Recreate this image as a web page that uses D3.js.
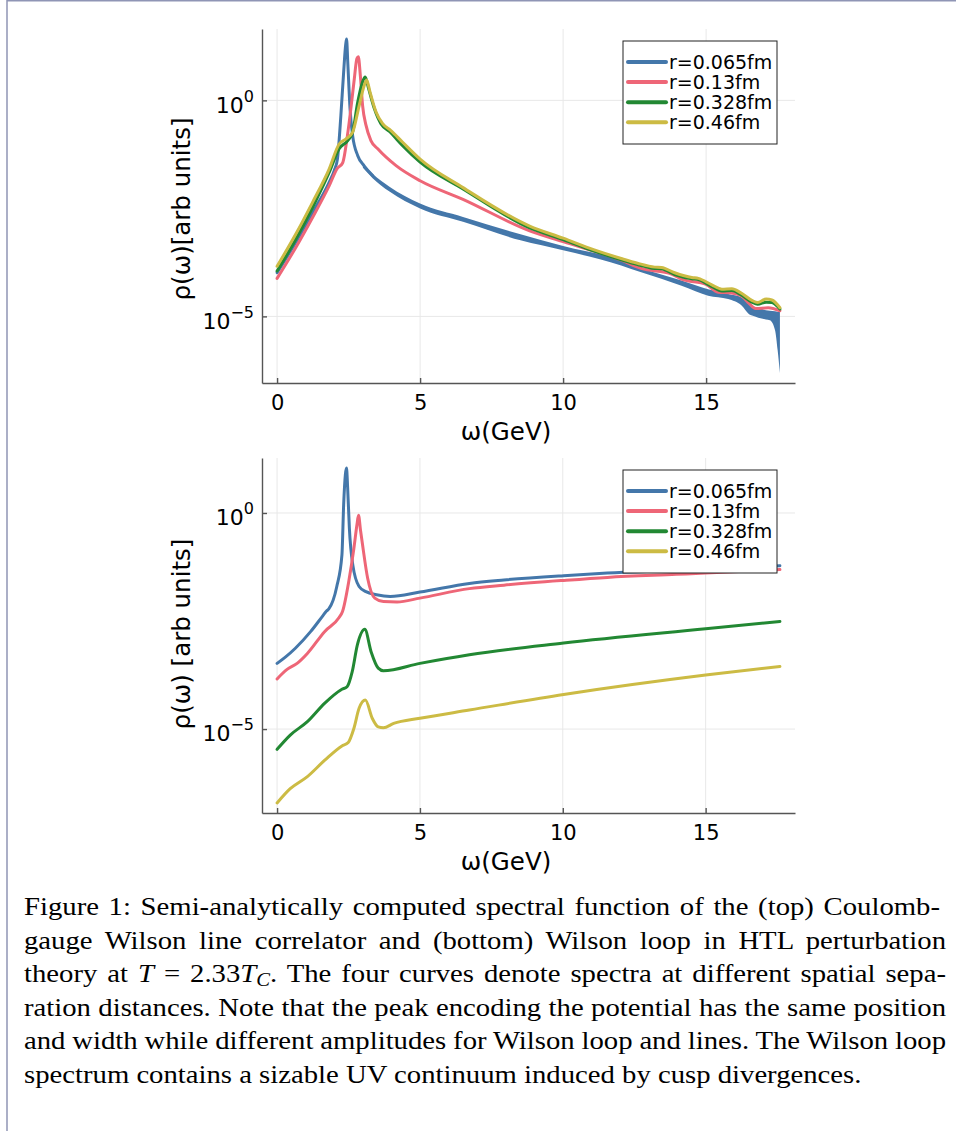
<!DOCTYPE html>
<html>
<head>
<meta charset="utf-8">
<script src="https://cdn.jsdelivr.net/npm/d3@7"></script>
<style>
  body { margin: 0; background: #fff; }
  svg { display: block; }
</style>
</head>
<body>
<svg id="fig" width="956" height="1131"></svg>
<script>
// series colours and legend labels
const colors = ['#4477AA', '#EE6677', '#228833', '#CCBB44'];
const labels = ['r=0.065fm', 'r=0.13fm', 'r=0.328fm', 'r=0.46fm'];
const xTicks = [0, 5, 10, 15];
const yTickExp = [0, -5];

// top panel: Wilson line correlator, [omega GeV, log10 rho]
const lineBlue = [[0,-3.99],[0.65,-3.29],[1.24,-2.60],[1.82,-1.90],[2.0,-1.62],[2.11,-1.36],[2.23,-0.35],[2.32,0.58],[2.40,1.30],[2.43,1.42],[2.47,0.90],[2.55,-0.19],[2.64,-0.81],[2.82,-1.28],[3.05,-1.52],[3.34,-1.74]];
// blue oscillates fast above the peak: [omega, upper, lower]
const lineBlueBand = [[3.0,-1.46,-1.56],[3.34,-1.70,-1.80],[3.93,-2.00,-2.11],[5.0,-2.39,-2.50],[6.5,-2.70,-2.81],[8.51,-3.10,-3.24],[10,-3.37,-3.47],[12.03,-3.70,-3.82],[12.73,-3.88,-3.98],[14.14,-4.17,-4.29],[15.07,-4.37,-4.52],[15.77,-4.48,-4.60],[16.24,-4.56,-4.75],[16.5,-4.70,-4.95],[16.71,-4.79,-5.00],[16.94,-4.83,-5.05],[17.23,-4.87,-5.09],[17.41,-4.88,-5.32],[17.50,-4.89,-5.78],[17.58,-4.90,-6.31]];
const lineRed = [[0,-4.12],[0.65,-3.41],[1.24,-2.71],[1.82,-1.98],[2.11,-1.57],[2.29,-1.45],[2.46,-0.81],[2.58,-0.19],[2.70,0.50],[2.79,0.97],[2.84,1.01],[2.91,0.58],[2.99,-0.12],[3.11,-0.58],[3.28,-0.93],[3.52,-1.12],[4.16,-1.51],[5.0,-1.86],[6.5,-2.29],[8.83,-3.02],[10,-3.27],[12.03,-3.70],[12.73,-3.89],[13.79,-4.02],[14.14,-4.14],[15,-4.26],[15.42,-4.44],[15.89,-4.46],[16.24,-4.53],[16.5,-4.70],[16.73,-4.82],[17.17,-4.80],[17.58,-4.87]];
const lineGreen = [[0,-3.95],[0.65,-3.22],[1.24,-2.48],[1.82,-1.67],[2.17,-1.12],[2.47,-0.93],[2.64,-0.74],[2.82,-0.04],[2.99,0.43],[3.08,0.54],[3.20,0.27],[3.40,-0.19],[3.63,-0.54],[3.93,-0.72],[4.39,-1.05],[5.0,-1.43],[6.5,-2.05],[8.83,-2.95],[10,-3.22],[11.09,-3.49],[12.03,-3.69],[12.6,-3.80],[13.2,-3.89],[13.44,-3.90],[13.9,-4.03],[14.5,-4.13],[14.73,-4.15],[15.2,-4.31],[15.55,-4.41],[15.9,-4.40],[16.2,-4.49],[16.6,-4.67],[16.8,-4.72],[17.1,-4.67],[17.3,-4.68],[17.58,-4.83]];
const lineYellow = [[0,-3.84],[0.65,-3.10],[1.24,-2.36],[1.82,-1.59],[2.17,-1.01],[2.41,-0.89],[2.64,-0.74],[2.87,-0.12],[3.05,0.35],[3.13,0.47],[3.25,0.19],[3.46,-0.27],[3.69,-0.54],[3.98,-0.70],[4.39,-0.97],[5.0,-1.36],[6.5,-2.02],[8.83,-2.91],[10,-3.19],[11.09,-3.46],[12.03,-3.66],[12.6,-3.77],[13.2,-3.86],[13.44,-3.87],[13.9,-3.99],[14.5,-4.10],[14.73,-4.12],[15.2,-4.27],[15.55,-4.37],[15.9,-4.36],[16.2,-4.45],[16.6,-4.63],[16.8,-4.68],[17.1,-4.60],[17.3,-4.62],[17.58,-4.80]];

// bottom panel: Wilson loop
const loopBlue = [[0,-3.48],[0.3,-3.33],[0.64,-3.13],[1.18,-2.74],[1.6,-2.38],[1.73,-2.27],[1.81,-2.22],[2.09,-1.70],[2.27,-0.97],[2.33,0.19],[2.39,0.89],[2.43,1.04],[2.47,0.58],[2.53,-0.35],[2.65,-1.20],[2.87,-1.70],[3.11,-1.82],[3.48,-1.89],[3.96,-1.93],[5.0,-1.83],[6.73,-1.63],[7.94,-1.55],[10.03,-1.45],[11.56,-1.39],[13.97,-1.33],[15,-1.30],[17.6,-1.22]];
const loopRed = [[0,-3.84],[0.35,-3.62],[0.70,-3.48],[1.06,-3.25],[1.67,-2.74],[2.17,-2.42],[2.29,-2.28],[2.51,-1.58],[2.69,-0.81],[2.80,-0.25],[2.85,-0.05],[2.92,-0.40],[2.99,-0.73],[3.17,-1.51],[3.42,-1.97],[3.72,-2.05],[4.20,-2.06],[5.0,-1.97],[6.73,-1.75],[7.94,-1.67],[10.03,-1.56],[11.56,-1.49],[13.97,-1.42],[15,-1.39],[17.6,-1.31]];
const loopGreen = [[0,-5.47],[0.46,-5.14],[1.06,-4.83],[1.67,-4.40],[2.27,-4.08],[2.45,-4.02],[2.63,-3.67],[2.81,-3.05],[3.07,-2.69],[3.29,-3.21],[3.54,-3.59],[3.72,-3.65],[5,-3.48],[6.73,-3.28],[10.03,-3.01],[15,-2.68],[17.6,-2.51]];
const loopYellow = [[0,-6.71],[0.46,-6.38],[1.06,-6.10],[1.67,-5.72],[2.27,-5.39],[2.49,-5.31],[2.69,-4.98],[2.87,-4.52],[3.09,-4.33],[3.33,-4.75],[3.54,-4.95],[3.72,-4.97],[4.08,-4.87],[5,-4.75],[6.73,-4.56],[10.03,-4.20],[15,-3.75],[17.6,-3.55]];

const captionLines = [
  'Figure 1: Semi-analytically computed spectral function of the (top) Coulomb-',
  'gauge Wilson line correlator and (bottom) Wilson loop in HTL perturbation',
  null,
  'ration distances. Note that the peak encoding the potential has the same position',
  'and width while different amplitudes for Wilson loop and lines. The Wilson loop',
  'spectrum contains a sizable UV continuum induced by cusp divergences.'
];

const svg = d3.select('#fig');
const sans = 'DejaVu Sans, sans-serif';
const axisColor = '#555';

svg.append('line').attr('x1', 7).attr('x2', 7).attr('y1', 0).attr('y2', 1131)
  .attr('stroke', '#8f95b5').attr('stroke-width', 1.5);
svg.append('line').attr('x1', 7).attr('x2', 956).attr('y1', 0.75).attr('y2', 0.75)
  .attr('stroke', '#8f95b5').attr('stroke-width', 1.5);

function drawPanel(p) {
  const pts = p.series.flat();
  if (p.band) p.band.forEach(d => { pts.push([d[0], d[1]]); pts.push([d[0], d[2]]); });
  const xe = d3.extent(pts, d => d[0]);
  const ye = d3.extent(pts, d => d[1]);
  const xpad = (xe[1] - xe[0]) * 0.03, ypad = (ye[1] - ye[0]) * 0.03;
  const x = d3.scaleLinear().domain([xe[0] - xpad, xe[1] + xpad]).range([p.left, p.right]);
  const y = d3.scaleLog().domain([10 ** (ye[0] - ypad), 10 ** (ye[1] + ypad)]).range([p.bottom, p.top]);

  const g = svg.append('g');

  g.selectAll('.gx').data(xTicks).enter().append('line')
    .attr('x1', d => x(d)).attr('x2', d => x(d))
    .attr('y1', p.top).attr('y2', p.bottom)
    .attr('stroke', '#e8e8e8').attr('stroke-width', 1);
  g.selectAll('.gy').data(yTickExp).enter().append('line')
    .attr('x1', p.left).attr('x2', p.right)
    .attr('y1', d => y(10 ** d)).attr('y2', d => y(10 ** d))
    .attr('stroke', '#e8e8e8').attr('stroke-width', 1);

  const line = d3.line().x(d => x(d[0])).y(d => y(10 ** d[1])).curve(d3.curveMonotoneX);

  if (p.band) {
    const area = d3.area().x(d => x(d[0]))
      .y0(d => y(10 ** d[2])).y1(d => y(10 ** d[1])).curve(d3.curveMonotoneX);
    g.append('path').datum(p.band).attr('d', area).attr('fill', colors[0]);
  }
  p.series.forEach((s, i) => {
    g.append('path').datum(s).attr('d', line)
      .attr('fill', 'none').attr('stroke', colors[i])
      .attr('stroke-width', 3).attr('stroke-linejoin', 'round').attr('stroke-linecap', 'round');
  });

  const xAxis = g.append('g').attr('transform', `translate(0,${p.bottom})`)
    .call(d3.axisBottom(x).tickValues(xTicks).tickSizeInner(-5).tickSizeOuter(0).tickPadding(12));
  xAxis.selectAll('text').attr('font-family', sans).attr('font-size', 21).attr('fill', '#000');

  const yAxis = g.append('g').attr('transform', `translate(${p.left},0)`)
    .call(d3.axisLeft(y).tickValues(yTickExp.map(e => 10 ** e)).tickSizeInner(-5).tickSizeOuter(0).tickFormat(''));
  yAxis.selectAll('.tick').append('text')
    .attr('x', -8).attr('dy', '0.35em').attr('y', 4)
    .attr('text-anchor', 'end').attr('fill', '#000')
    .attr('font-family', sans).attr('font-size', 22)
    .each(function(d) {
      const e = Math.round(Math.log10(d));
      const t = d3.select(this);
      t.append('tspan').text('10');
      t.append('tspan').attr('dy', -11).attr('font-size', 16).text(e < 0 ? '\u2212' + (-e) : e);
    });

  [xAxis, yAxis].forEach(a => {
    a.selectAll('path, line').attr('stroke', axisColor).attr('stroke-width', 1.4);
  });

  g.append('text').attr('x', 506).attr('y', p.bottom + 57)
    .attr('text-anchor', 'middle').attr('font-family', sans).attr('font-size', 24.5)
    .text('\u03c9(GeV)');
  g.append('text').attr('transform', `translate(190,${p.ylabelY}) rotate(-90)`)
    .attr('text-anchor', 'middle').attr('font-family', sans).attr('font-size', 24.5)
    .text(p.ylabel);

  const lg = g.append('g').attr('transform', `translate(${p.legend[0]},${p.legend[1]})`);
  lg.append('rect').attr('width', 154).attr('height', 103)
    .attr('fill', '#fff').attr('stroke', '#222').attr('stroke-width', 1);
  labels.forEach((lab, i) => {
    const yy = 21 + i * 20.1;
    lg.append('line').attr('x1', 5).attr('x2', 43).attr('y1', yy).attr('y2', yy)
      .attr('stroke', colors[i]).attr('stroke-width', 4).attr('stroke-linecap', 'round');
    lg.append('text').attr('x', 46).attr('y', yy).attr('dy', '0.36em')
      .attr('font-family', sans).attr('font-size', 19).text(lab);
  });
}

drawPanel({
  left: 262, right: 795, top: 29, bottom: 383,
  series: [lineBlue, lineRed, lineGreen, lineYellow],
  band: lineBlueBand,
  legend: [623, 41],
  ylabel: '\u03c1(\u03c9)[arb units]', ylabelY: 209
});
drawPanel({
  left: 262, right: 795, top: 458, bottom: 813,
  series: [loopBlue, loopRed, loopGreen, loopYellow],
  legend: [623, 470],
  ylabel: '\u03c1(\u03c9) [arb units]', ylabelY: 634
});

// caption: glyphs stretched to the last (unjustified) line, other lines justified by word spacing
const serif = 'Liberation Serif, Times New Roman, serif';
const capLeft = 24;
const capRight = [940, 946, 946, 946, 946, 862];
const cap = svg.append('g').attr('font-family', serif).attr('font-size', 25).attr('fill', '#000');
const texts = captionLines.map((txt, i) => {
  const t = cap.append('text').attr('y', 915 + i * 33.6);
  if (txt !== null) { t.text(txt); return t; }
  t.append('tspan').text('theory at ');
  t.append('tspan').attr('font-style', 'italic').text('T');
  t.append('tspan').text(' = 2.33');
  t.append('tspan').attr('font-style', 'italic').text('T');
  t.append('tspan').attr('font-style', 'italic').attr('font-size', 18).attr('dy', 4).text('C');
  t.append('tspan').attr('dy', -4).text('. The four curves denote spectra at different spatial sepa-');
  return t;
});
const lastW = texts[5].node().getComputedTextLength();
const sx = (capRight[5] - capLeft) / lastW;
cap.attr('transform', `translate(${capLeft},0) scale(${sx},1)`);
texts.forEach((t, i) => {
  t.attr('x', 0);
  if (i === 5) return;
  const w = t.node().getComputedTextLength();
  const spaces = (t.text().match(/ /g) || []).length;
  t.attr('word-spacing', ((capRight[i] - capLeft) / sx - w) / spaces);
});
</script>
</body>
</html>
